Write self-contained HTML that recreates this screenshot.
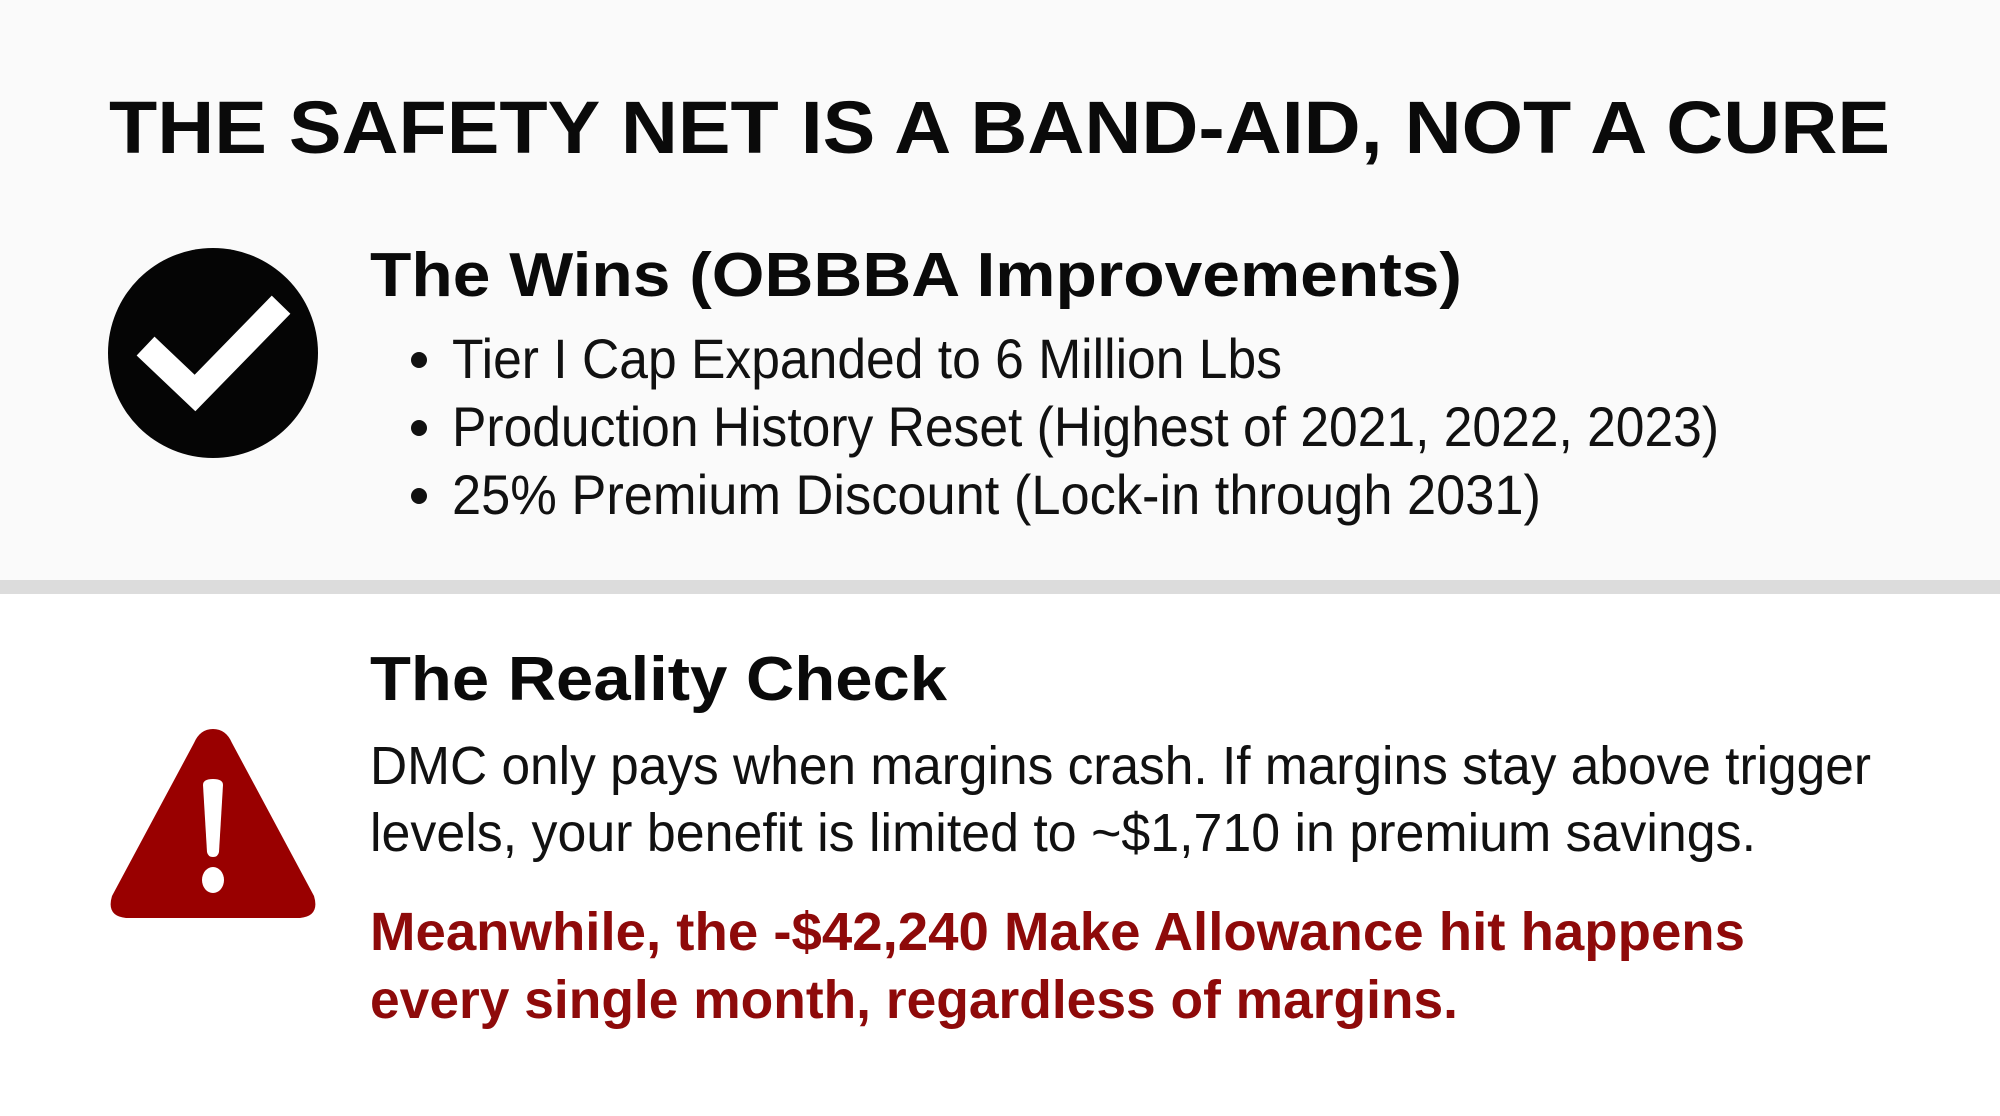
<!DOCTYPE html>
<html><head><meta charset="utf-8"><style>
html,body{margin:0;padding:0;background:#fff}
svg{display:block}
text{font-family:"Liberation Sans",sans-serif}
</style></head><body>
<svg width="2000" height="1116" viewBox="0 0 2000 1116" xmlns="http://www.w3.org/2000/svg">
<rect width="2000" height="582" fill="#fafafa"/>
<rect y="594" width="2000" height="522" fill="#ffffff"/>
<rect y="580" width="2000" height="14" fill="#dcdcdc"/>
<text x="109" y="153" font-size="74" font-weight="bold" fill="#0a0a0a" textLength="1781" lengthAdjust="spacingAndGlyphs">THE SAFETY NET IS A BAND-AID, NOT A CURE</text>
<circle cx="213" cy="353" r="105" fill="#050505"/>
<path d="M155 355 L195 393 L272 314" fill="none" stroke="#fff" stroke-width="26" stroke-linecap="square"/>
<text x="370" y="296" font-size="62" font-weight="bold" fill="#0a0a0a" textLength="1092" lengthAdjust="spacingAndGlyphs">The Wins (OBBBA Improvements)</text>
<g font-size="56" fill="#111">
<circle cx="419" cy="360" r="8" fill="#111"/>
<text x="452" y="378" textLength="830" lengthAdjust="spacingAndGlyphs">Tier I Cap Expanded to 6 Million Lbs</text>
<circle cx="419" cy="428" r="8" fill="#111"/>
<text x="452" y="446" textLength="1267" lengthAdjust="spacingAndGlyphs">Production History Reset (Highest of 2021, 2022, 2023)</text>
<circle cx="419" cy="496" r="8" fill="#111"/>
<text x="452" y="514" textLength="1089" lengthAdjust="spacingAndGlyphs">25% Premium Discount (Lock-in through 2031)</text>
</g>
<path d="M213 729 Q200 729 194 743 L112 896 Q106 916 126 918 L300 918 Q320 916 314 896 L232 743 Q226 729 213 729 Z" fill="#990000"/>
<path d="M203 785 Q203 779 213 779 Q223 779 223 785 L219 852 Q218 857 213 857 Q208 857 207 852 Z" fill="#fff"/>
<ellipse cx="213" cy="880" rx="11" ry="13" fill="#fff"/>
<text x="370" y="700" font-size="62" font-weight="bold" fill="#0a0a0a" textLength="577" lengthAdjust="spacingAndGlyphs">The Reality Check</text>
<g font-size="54" fill="#111">
<text x="370" y="784" textLength="1501" lengthAdjust="spacingAndGlyphs">DMC only pays when margins crash. If margins stay above trigger</text>
<text x="370" y="851" textLength="1386" lengthAdjust="spacingAndGlyphs">levels, your benefit is limited to ~$1,710 in premium savings.</text>
</g>
<g font-size="54" font-weight="bold" fill="#8e0a0a">
<text x="370" y="950" textLength="1375" lengthAdjust="spacingAndGlyphs">Meanwhile, the -$42,240 Make Allowance hit happens</text>
<text x="370" y="1018" textLength="1088" lengthAdjust="spacingAndGlyphs">every single month, regardless of margins.</text>
</g>
</svg>
</body></html>
